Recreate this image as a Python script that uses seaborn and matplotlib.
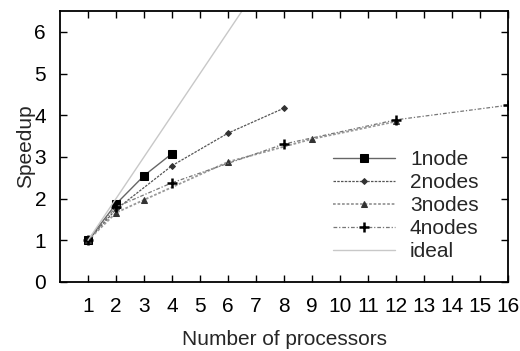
import matplotlib
matplotlib.use("Agg")
import matplotlib.pyplot as plt
import seaborn as sns

# datos
procs_1node = [1, 2, 3, 4]
speed_1node = [1.0, 1.87, 2.55, 3.08]

procs_2nodes = [1, 2, 4, 6, 8]
speed_2nodes = [1.0, 1.74, 2.79, 3.57, 4.17]

procs_3nodes = [1, 2, 3, 6, 9, 12]
speed_3nodes = [1.0, 1.66, 1.97, 2.88, 3.43, 3.85]

procs_4nodes = [1, 2, 4, 8, 12, 16]
speed_4nodes = [1.0, 1.80, 2.38, 3.31, 3.89, 4.24]

procs_ideal = list(range(1, 17))
speed_ideal = list(range(1, 17))

xticks = list(range(1, 17))
yticks = [0, 1, 2, 3, 4, 5, 6]

sns.set_style("ticks")
plt.rcParams['font.family'] = ['Liberation Sans', 'DejaVu Sans']

fig = plt.figure(figsize=(5.2, 3.51), dpi=100)
ax = fig.add_axes([0.1154, 0.1966, 0.8616, 0.7721])

sns.lineplot(x=procs_1node, y=speed_1node, ax=ax, color="#666666", linewidth=1.0,
             marker="s", markersize=5.5, markerfacecolor="black", markeredgecolor="black",
             label="1node")
sns.lineplot(x=procs_2nodes, y=speed_2nodes, ax=ax, color="#555555", linewidth=0.9,
             linestyle=(0, (2, 1)), marker="D", markersize=3,
             markerfacecolor="#333333", markeredgecolor="#333333", label="2nodes")
sns.lineplot(x=procs_3nodes, y=speed_3nodes, ax=ax, color="#999999", linewidth=1.3,
             linestyle=(0, (1.5, 1)), marker="^", markersize=4,
             markerfacecolor="#333333", markeredgecolor="#333333", label="3nodes")
sns.lineplot(x=procs_4nodes, y=speed_4nodes, ax=ax, color="#777777", linewidth=0.9,
             linestyle=(0, (3, 1.5, 1, 1.5)), marker="+", markersize=7,
             markeredgewidth=1.8, markeredgecolor="black", label="4nodes")
sns.lineplot(x=procs_ideal, y=speed_ideal, ax=ax, color="#c8c8c8", linewidth=1.0,
             label="ideal")

ax.set_xlim(0, 16)
ax.set_ylim(0, 6.5)
ax.set_xticks(xticks)
ax.set_yticks(yticks)
ax.tick_params(direction="in", length=5, width=1.0, top=True, right=True,
               labelsize=15, colors="black")
ax.tick_params(axis="x", pad=11)
ax.tick_params(axis="y", pad=10)
for s in ax.spines.values():
    s.set_linewidth(1.3)
    s.set_color("black")
    s.set_visible(True)

ax.set_xlabel("Number of processors", fontsize=15, labelpad=10)
ax.set_ylabel("Speedup", fontsize=15)
ax.yaxis.set_label_coords(-0.056, 0.5)

ax.legend(loc="center left", bbox_to_anchor=(0.609, 0.281), frameon=False,
          fontsize=15, handlelength=3.0, handletextpad=0.7, labelspacing=0.19,
          borderpad=0, borderaxespad=0, numpoints=1)

fig.savefig("out.png", dpi=100)
